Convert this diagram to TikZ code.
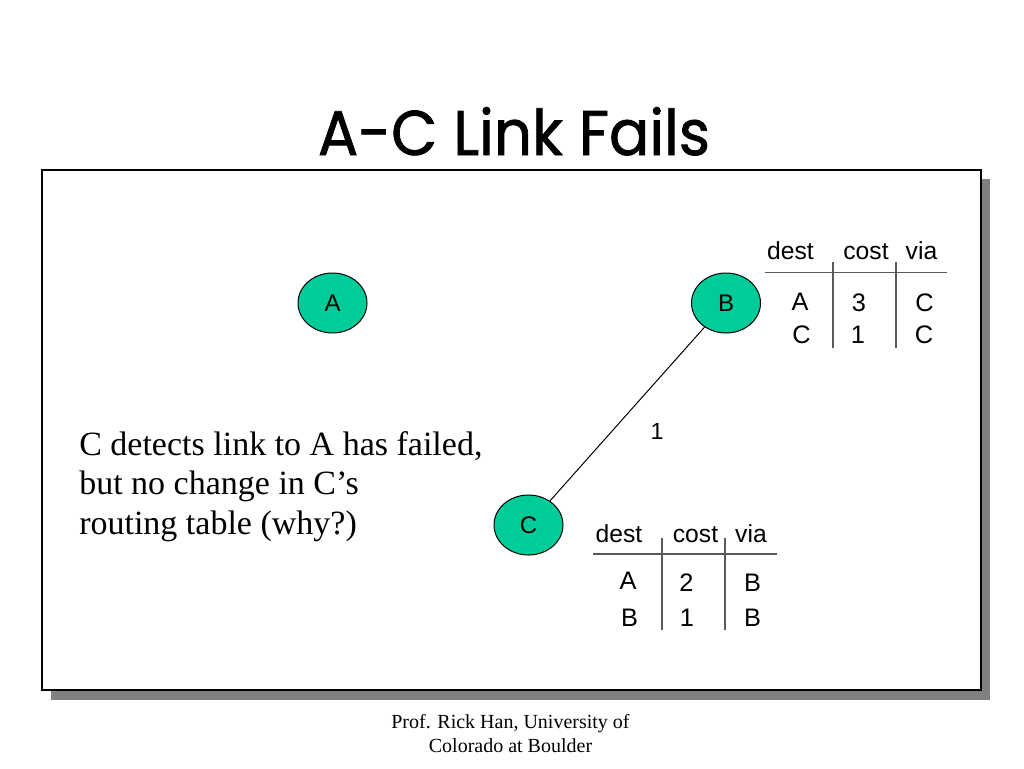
\documentclass[tikz,border=0pt]{standalone}
\usepackage{fontspec}
\usetikzlibrary{shapes.geometric}
\newfontfamily\sansf{Liberation Sans}
\newfontfamily\seriff{Liberation Serif}
\newfontfamily\titlef{Poppins}[FakeBold=1.2]
\definecolor{nodegreen}{RGB}{0,204,153}
\definecolor{shadowgray}{RGB}{128,128,128}
\definecolor{rulegray}{RGB}{90,90,90}
\begin{document}
\begin{tikzpicture}[x=0.75pt,y=-0.75pt,
 router/.style={ellipse, draw=black, line width=0.75pt, fill=nodegreen, minimum width=51.75pt, minimum height=45pt, inner sep=0pt, font=\sansf\fontsize{18}{21}\selectfont},
 cell/.style={anchor=base, inner sep=0pt, font=\sansf\fontsize{19}{23}\selectfont},
 hdr/.style={anchor=base, inner sep=0pt, font=\sansf\fontsize{18.5}{22}\selectfont},
 tablerule/.style={draw=rulegray, line width=1.4pt},
 body/.style={anchor=base west, inner sep=0pt, font=\seriff\fontsize{25.5}{30}\selectfont},
 foot/.style={anchor=base, inner sep=0pt, font=\seriff\fontsize{15}{18}\selectfont},
 linklabel/.style={inner sep=0pt, font=\sansf\fontsize{17.5}{21}\selectfont},
]
\useasboundingbox (0,0) rectangle (1024,768);
\fill[white] (0,0) rectangle (1024,768);
% title
\node[anchor=base, inner sep=0pt] (title) at (514,155) {\resizebox{294pt}{36pt}{\titlef A-C Link Fails}};
% frame with shadow
\fill[shadowgray] (51,179) rectangle (990,700);
\draw[fill=white, line width=1.2pt] (42,170) rectangle (981,690);
% routers
\node[router] (A) at (332.5,303) {A};
\node[router] (B) at (726,303) {B};
\node[router] (C) at (528.5,525) {C};
\draw[line width=0.75pt] (B) -- (C);
\node[linklabel] (l1) at (657,431) {1};
% table of B
\node[hdr] (bh1) at (790.5,259) {dest};
\node[hdr] (bh2) at (866,259) {cost};
\node[hdr] (bh3) at (921.5,259) {via};
\draw[tablerule] (765,272.5) -- (947,272.5);
\draw[tablerule] (833,262) -- (833,348);
\draw[tablerule] (896,262) -- (896,348);
\node[cell] (b11) at (800,310) {A};
\node[cell] (b12) at (859,311) {3};
\node[cell] (b13) at (924.5,311) {C};
\node[cell] (b21) at (801.5,343.5) {C};
\node[cell] (b22) at (858,343.5) {1};
\node[cell] (b23) at (924,343.5) {C};
% table of C
\node[hdr] (ch1) at (619,542) {dest};
\node[hdr] (ch2) at (695.5,542) {cost};
\node[hdr] (ch3) at (751,542) {via};
\draw[tablerule] (593,554.3) -- (777,554.3);
\draw[tablerule] (662,538) -- (662,630);
\draw[tablerule] (725,538) -- (725,630);
\node[cell] (c11) at (628,589) {A};
\node[cell] (c12) at (686.5,591.7) {2};
\node[cell] (c13) at (752.5,591.7) {B};
\node[cell] (c21) at (629.5,626.7) {B};
\node[cell] (c22) at (687,626.7) {1};
\node[cell] (c23) at (752.5,626.7) {B};
% body text
\node[body] (t1) at (79,455) {C detects link to A has failed,};
\node[body] (t2) at (79,494.5) {but no change in C’s};
\node[body] (t3) at (79,534) {routing table (why?)};
% footer
\node[foot] (f1) at (510.5,728) {Prof. Rick Han, University of};
\node[foot] (f2) at (510.5,752.5) {Colorado at Boulder};
\end{tikzpicture}
\end{document}
